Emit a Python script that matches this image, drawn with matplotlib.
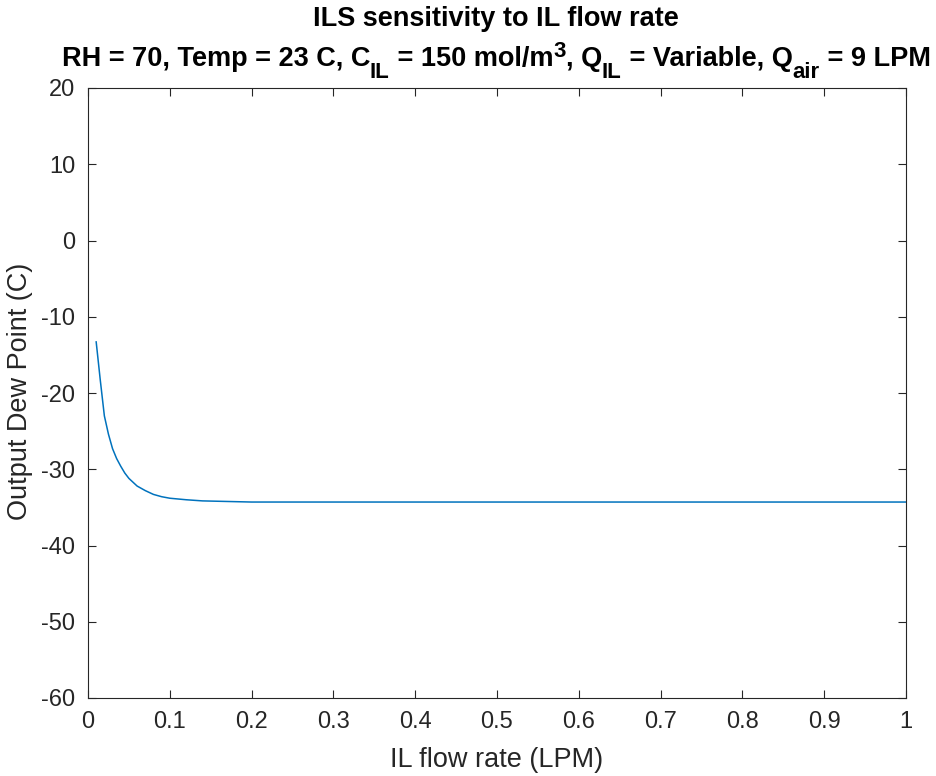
import numpy as np
import matplotlib
matplotlib.use('Agg')
import matplotlib.pyplot as plt
from matplotlib.transforms import IdentityTransform

plt.rcParams['font.family'] = ['Liberation Sans', 'DejaVu Sans']
plt.rcParams['axes.unicode_minus'] = False

# IL flow rate (LPM) and output dew point (C)
flow_rate = [0.01, 0.015, 0.02, 0.025, 0.03, 0.035, 0.04, 0.045, 0.05, 0.06,
             0.07, 0.08, 0.09, 0.10, 0.12, 0.14, 0.16, 0.20, 0.30, 0.40,
             0.50, 0.60, 0.70, 0.80, 0.90, 1.00]
dew_point = [-13.3, -18.3, -23.0, -25.4, -27.3, -28.6, -29.6, -30.5, -31.2, -32.2,
             -32.8, -33.3, -33.6, -33.8, -34.0, -34.15, -34.2, -34.3, -34.3, -34.3,
             -34.3, -34.3, -34.3, -34.3, -34.3, -34.3]

x_ticks = np.round(np.arange(0, 1.01, 0.1), 1)
x_labels = ['0', '0.1', '0.2', '0.3', '0.4', '0.5', '0.6', '0.7', '0.8', '0.9', '1']
y_ticks = [-60, -50, -40, -30, -20, -10, 0, 10, 20]

W, H = 937, 776
fig = plt.figure(figsize=(W / 100, H / 100), dpi=100)
ax = fig.add_axes([88 / W, 1 - 698 / H, (906 - 88) / W, (698 - 88) / H])

ax.plot(flow_rate, dew_point, color='#0072BD', lw=1.1)

ax.set_xlim(0, 1)
ax.set_ylim(-60, 20)
ax.set_xticks(x_ticks)
ax.set_xticklabels(x_labels)
ax.set_yticks(y_ticks)
ax.tick_params(direction='in', length=5.5, width=0.8, labelsize=17, colors='#262626',
               top=True, right=True)
ax.tick_params(axis='x', pad=9)
ax.tick_params(axis='y', pad=9)
for s in ax.spines.values():
    s.set_color('#262626')
    s.set_linewidth(0.8)

fig.text(497 / W, 1 - 760 / H, 'IL flow rate (LPM)', fontsize=19.5, color='#262626',
         ha='center', va='center')
fig.text(20 / W, 1 - 391 / H, 'Output Dew Point (C)', fontsize=19.5, color='#262626',
         ha='center', va='center', rotation=90)

# title, line 1
fig.text(496 / W, 1 - 26 / H, 'ILS sensitivity to IL flow rate', ha='center',
         va='baseline', fontsize=19.5, fontweight='bold', color='black')

# title, line 2 built from pieces so sub/superscripts keep MATLAB-like size
main, small = 19.5, 16
pieces = [('RH = 70, Temp = 23 C, C', main, 0), ('IL', small, -12),
          (' = 150 mol/m', main, 0), ('3', small, 9),
          (', Q', main, 0), ('IL', small, -12),
          (' = Variable, Q', main, 0), ('air', small, -12),
          (' = 9 LPM', main, 0)]
renderer = fig.canvas.get_renderer()
base_y = 776 - 66
texts, widths = [], []
for s, size, dy in pieces:
    t = fig.text(0, base_y + dy, s, fontsize=size, fontweight='bold', va='baseline',
                 ha='left', transform=IdentityTransform())
    texts.append(t)
    widths.append(t.get_window_extent(renderer).width)
x = 496 - sum(widths) / 2
for t, w in zip(texts, widths):
    t.set_x(x)
    x += w

fig.savefig('out.png', dpi=100)
